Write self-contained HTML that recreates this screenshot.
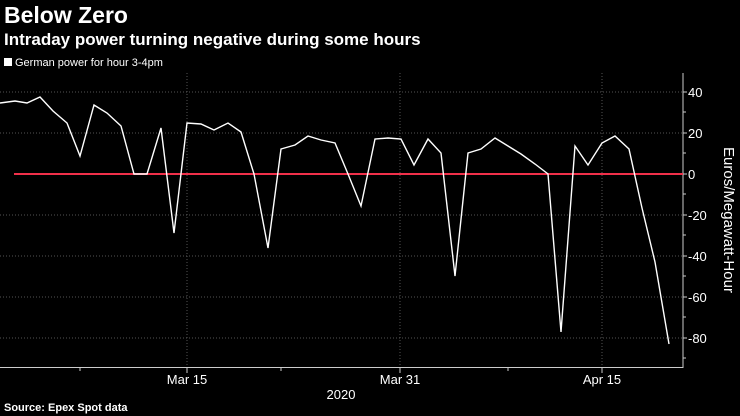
<!DOCTYPE html>
<html><head><style>
body{margin:0;background:#000;width:740px;height:416px;overflow:hidden;font-family:"Liberation Sans",sans-serif;color:#fff}
.t{position:absolute;left:4px;top:2px;font-size:23px;font-weight:bold}
.s{position:absolute;left:4px;top:30px;font-size:17px;font-weight:bold}
.l{position:absolute;left:4px;top:57px;font-size:11px}
.src{position:absolute;left:4px;top:402px;font-size:11px;font-weight:bold}
</style></head><body>
<div class="t">Below Zero</div>
<div class="s">Intraday power turning negative during some hours</div>
<div class="l"><span style="display:inline-block;width:8px;height:8px;background:#fff;margin-right:3px"></span>German power for hour 3-4pm</div>
<svg width="740" height="416" style="position:absolute;left:0;top:0" font-family="Liberation Sans,sans-serif">
<g stroke="#555" stroke-dasharray="1,2" stroke-width="1">
<line x1="0" x2="683" y1="92" y2="92"/><line x1="0" x2="683" y1="133" y2="133"/><line x1="0" x2="683" y1="215" y2="215"/><line x1="0" x2="683" y1="256" y2="256"/><line x1="0" x2="683" y1="297" y2="297"/><line x1="0" x2="683" y1="338" y2="338"/>
<line x1="187" x2="187" y1="73" y2="367"/><line x1="400" x2="400" y1="73" y2="367"/><line x1="602" x2="602" y1="73" y2="367"/>
</g>
<g stroke="#ccc" stroke-width="1">
<line x1="683" x2="683" y1="73" y2="368"/><line x1="0" x2="683" y1="367.5" y2="367.5"/>
<line x1="80" x2="80" y1="367" y2="371"/><line x1="187" x2="187" y1="367" y2="373"/><line x1="281" x2="281" y1="367" y2="371"/><line x1="400" x2="400" y1="367" y2="373"/><line x1="508" x2="508" y1="367" y2="371"/><line x1="602" x2="602" y1="367" y2="373"/>
<line x1="683" x2="687" y1="92" y2="92"/><line x1="683" x2="687" y1="133" y2="133"/><line x1="683" x2="687" y1="174" y2="174"/><line x1="683" x2="687" y1="215" y2="215"/><line x1="683" x2="687" y1="256" y2="256"/><line x1="683" x2="687" y1="297" y2="297"/><line x1="683" x2="687" y1="338" y2="338"/>
<line x1="683" x2="686" y1="112" y2="112"/><line x1="683" x2="686" y1="153" y2="153"/><line x1="683" x2="686" y1="194" y2="194"/><line x1="683" x2="686" y1="235" y2="235"/><line x1="683" x2="686" y1="276" y2="276"/><line x1="683" x2="686" y1="317" y2="317"/><line x1="683" x2="686" y1="358" y2="358"/>
</g>
<line x1="14" x2="683" y1="174" y2="174" stroke="#f0304a" stroke-width="2"/>
<polyline fill="none" stroke="#fff" stroke-width="1.4" points="0,103 15,101 27,103 40,97 53,111 67,123 80,156 94,105 107,113 121,126 134,174 147,174 161,128 174,233 187,123 201,124 214,130 228,123 241,132 254,174 268,248 281,149 295,145 308,136 321,140 335,143 348,174 361,206 375,139 388,138 401,139 414,165 428,139 441,153 455,276 468,153 481,149 495,138 508,146 521,154 535,164 548,174 561,332 575,146 588,165 602,143 615,136 629,149 642,208 655,262 669,344"/>
<g fill="#fff" font-size="13">
<text x="688" y="97">40</text><text x="688" y="138">20</text><text x="688" y="179">0</text><text x="688" y="220">-20</text><text x="688" y="261">-40</text><text x="688" y="302">-60</text><text x="688" y="343">-80</text>
<text x="187" y="384" text-anchor="middle">Mar 15</text><text x="400" y="384" text-anchor="middle">Mar 31</text><text x="602" y="384" text-anchor="middle">Apr 15</text>
<text x="341" y="399" text-anchor="middle">2020</text>
<text transform="translate(724,220) rotate(90)" text-anchor="middle" font-size="15">Euros/Megawatt-Hour</text>
</g>
</svg>
<div class="src">Source: Epex Spot data</div>
</body></html>
